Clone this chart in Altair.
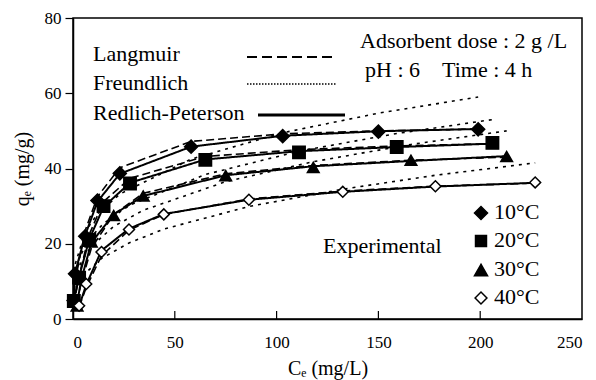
import altair as alt
import pandas as pd

# ---------------- data ----------------
temps = ["10°C", "20°C", "30°C", "40°C"]

ce_10 = [0.3, 1, 6, 12, 23, 58, 103, 150, 199]
qe_10 = [4.9, 12.0, 22.0, 31.5, 38.7, 45.8, 48.6, 49.8, 50.4]
ce_20 = [0.4, 3, 8, 15, 28, 65, 111, 159, 206]
qe_20 = [4.8, 11.0, 21.0, 30.0, 36.0, 42.3, 44.3, 45.7, 46.8]
ce_30 = [2, 4, 9, 20, 34.5, 75, 118, 166, 213]
qe_30 = [3.5, 10.5, 20.5, 27.5, 32.7, 38.1, 40.3, 42.2, 43.2]
ce_40 = [3, 6.5, 14, 27.5, 44.6, 86.4, 132.5, 178, 227]
qe_40 = [3.5, 9.3, 17.8, 23.8, 27.8, 31.7, 33.8, 35.3, 36.3]

# model predictions at the experimental Ce values
lang_10 = [3.5, 10.0, 23.5, 32.5, 40.2, 47.2, 49.2, 50.0, 50.5]
lang_20 = [3.8, 11.5, 22.5, 31.2, 37.4, 43.2, 45.0, 46.0, 46.6]
lang_30 = [4.5, 9.5, 18.8, 27.8, 33.4, 38.6, 40.8, 42.2, 43.0]
lang_40 = [3.2, 8.4, 16.8, 23.6, 27.8, 31.9, 34.0, 35.3, 36.1]

freu_10 = [10.4, 14.4, 23.2, 27.9, 33.2, 42.5, 49.5, 54.7, 59.0]
freu_20 = [9.2, 16.2, 21.3, 25.4, 30.3, 38.4, 44.6, 49.3, 53.0]
freu_30 = [12.3, 15.2, 19.3, 24.6, 28.9, 36.5, 41.8, 46.4, 50.0]
freu_40 = [9.5, 12.4, 16.1, 20.2, 23.9, 29.9, 34.5, 38.2, 41.5]

rp_10 = [4.9, 12.2, 22.3, 31.2, 38.6, 45.8, 48.7, 49.9, 50.5]
rp_20 = [4.9, 11.2, 21.2, 29.8, 36.2, 42.4, 44.6, 45.7, 46.6]
rp_30 = [4.2, 10.3, 20.3, 27.8, 32.7, 38.2, 40.6, 42.0, 43.3]
rp_40 = [3.4, 9.1, 18.2, 24.0, 27.9, 31.7, 33.8, 35.2, 36.2]

x_ticks = [0, 50, 100, 150, 200, 250]
y_ticks = [0, 20, 40, 60, 80]
inner_x_ticks = [50, 100, 150, 200]

# ---------------- tables ----------------
ces = [ce_10, ce_20, ce_30, ce_40]
exps = [qe_10, qe_20, qe_30, qe_40]
models = {
    "Langmuir": [lang_10, lang_20, lang_30, lang_40],
    "Freundlich": [freu_10, freu_20, freu_30, freu_40],
    "RP": [rp_10, rp_20, rp_30, rp_40],
}

exp_rows = []
for t, c, q in zip(temps, ces, exps):
    for ci, qi in zip(c, q):
        exp_rows.append({"temp": t, "ce": ci, "q": qi})
exp_df = pd.DataFrame(exp_rows)

mod_rows = []
for m, lists in models.items():
    for t, c, q in zip(temps, ces, lists):
        for ci, qi in zip(c, q):
            mod_rows.append({"model": m, "temp": t, "ce": ci, "q": qi})
mod_df = pd.DataFrame(mod_rows)

FONT = "Liberation Serif"
W, H = 509, 301

xs = alt.Scale(domain=[0, 250], nice=False)
ys = alt.Scale(domain=[0, 80], nice=False)

x_axis = alt.Axis(values=x_ticks, title="Cₑ (mg/L)", ticks=False, tickSize=0,
                  labelPadding=15, titlePadding=8, grid=False)
y_axis = alt.Axis(values=y_ticks, title="qₑ (mg/g)", tickSize=8,
                  labelPadding=4, titlePadding=12, grid=False)
X = alt.X("ce:Q", scale=xs, axis=x_axis)
Y = alt.Y("q:Q", scale=ys, axis=y_axis)


def model_line(name, dash, width):
    return alt.Chart(mod_df).transform_filter(alt.datum.model == name).mark_line(
        color="black", strokeDash=dash, strokeWidth=width
    ).encode(x=X, y=Y, detail="temp:N", order="ce:Q")


free = model_line("Freundlich", [3, 5], 1.6)
lang = model_line("Langmuir", [8, 4], 1.6)
rp = model_line("RP", [1, 0], 2)

shape_scale = alt.Scale(domain=temps, range=["diamond", "square", "triangle-up", "diamond"])
fill_scale = alt.Scale(domain=temps, range=["black", "black", "black", "white"])
size_scale = alt.Scale(domain=temps, range=[170, 120, 170, 140])

points = alt.Chart(exp_df).mark_point(filled=True, stroke="black", strokeWidth=1.5, opacity=1).encode(
    x=X, y=Y,
    shape=alt.Shape("temp:N", scale=shape_scale, legend=None),
    fill=alt.Fill("temp:N", scale=fill_scale, legend=None),
    size=alt.Size("temp:N", scale=size_scale, legend=None),
)

ticks_df = pd.DataFrame({"t": inner_x_ticks})
xticks = alt.Chart(ticks_df).mark_rule(color="black", strokeWidth=1.2).encode(
    x=alt.X("t:Q", scale=xs, axis=x_axis), y=alt.value(H), y2=alt.value(H - 8)
)

one = pd.DataFrame({"a": [0]})


def txt(s, x, y, size=22, baseline="alphabetic"):
    return alt.Chart(one).mark_text(text=s, font=FONT, fontSize=size, align="left",
                                    baseline=baseline, color="black").encode(
        x=alt.value(x), y=alt.value(y))


def seg(x1, x2, y, dash, width):
    return alt.Chart(one).mark_rule(color="black", strokeDash=dash, strokeWidth=width).encode(
        x=alt.value(x1), x2=alt.value(x2), y=alt.value(y))


def sym(shape, fill, size, x, y):
    return alt.Chart(one).mark_point(shape=shape, filled=True, fill=fill, stroke="black",
                                     strokeWidth=1.5, size=size, opacity=1).encode(
        x=alt.value(x), y=alt.value(y))


NB = "\u00a0"
annot = [
    txt("Langmuir", 20, 43),
    txt("Freundlich", 20, 72),
    txt("Redlich-Peterson", 20, 102),
    seg(174, 262, 39, [10, 5], 2),
    seg(174, 263, 66, [1.5, 1.5], 1.5),
    seg(185, 272, 97, [1, 0], 3),
    txt("Adsorbent dose : 2 g /L", 287, 30),
    txt("pH : 6" + NB * 4 + "Time : 4 h", 292, 59),
    txt("Experimental", 250, 235),
]
leg_y = [195, 223, 252, 280]
leg_shapes = ["diamond", "square", "triangle-up", "diamond"]
leg_fill = ["black", "black", "black", "white"]
leg_size = [170, 120, 170, 140]
for t, yy, sh, fl, sz in zip(temps, leg_y, leg_shapes, leg_fill, leg_size):
    annot.append(sym(sh, fl, sz, 408, yy))
    annot.append(txt(t, 421, yy - 1, baseline="middle"))

chart = alt.layer(free, lang, rp, xticks, points, *annot).properties(
    width=W, height=H,
    background="white",
    autosize=alt.AutoSizeParams(type="none"),
    padding={"left": 73, "top": 18, "right": 14, "bottom": 61},
).configure_view(stroke="black", strokeWidth=1.5).configure_axis(
    domainColor="black", domainWidth=1.5, tickColor="black", tickWidth=1.2,
    labelFont=FONT, labelFontSize=17, labelColor="black",
    titleFont=FONT, titleFontSize=20, titleColor="black", titleFontWeight="normal",
)

chart.save("out.html", embed_options={"renderer": "svg", "actions": False})
